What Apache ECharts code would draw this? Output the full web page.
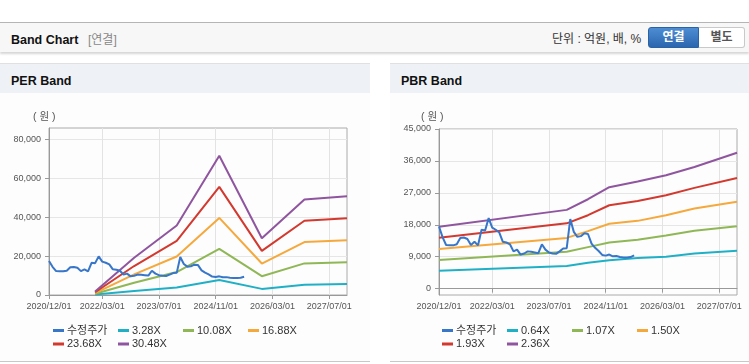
<!DOCTYPE html>
<html><head><meta charset="utf-8">
<script src="https://cdn.jsdelivr.net/npm/echarts@6/dist/echarts.min.js"></script>
<style>
body{margin:0;width:749px;height:364px;overflow:hidden;background:#fff;position:relative;font-family:'Liberation Sans','Noto Sans CJK KR',sans-serif;}
.hdr{position:absolute;left:0;top:22px;width:749px;height:29px;background:#f7f7f7;border-top:1px solid #b5b5b5;box-shadow:0 2px 2px rgba(0,0,0,0.16);}
.hdr .t{position:absolute;left:11px;top:10px;font-size:12.5px;font-weight:bold;color:#111;line-height:14px;}
.hdr .s{position:absolute;left:88px;top:10px;font-size:12px;color:#888;line-height:14px;}
.hdr .u{position:absolute;left:552px;top:9px;font-size:12px;color:#333;line-height:14px;}
.b1{position:absolute;left:648px;top:4px;width:51px;height:21px;box-sizing:border-box;background:linear-gradient(#4d8dd4,#2b66ae);border:1px solid #2a62a6;border-radius:3px 0 0 3px;color:#fff;font-weight:bold;font-size:12px;text-align:center;line-height:19px;}
.b2{position:absolute;left:699px;top:4px;width:46px;height:21px;box-sizing:border-box;background:#fff;border:1px solid #c9c9c9;border-left:none;border-radius:0 3px 3px 0;color:#555;font-weight:bold;font-size:12px;text-align:center;line-height:19px;}
.pn{position:absolute;top:63px;height:297px;background:#fdfdfd;border-top:1px solid #e0e0e0;border-bottom:1px solid #c8c8c8;}
.pn .tb{height:29px;background:#eef2f7;position:relative;}
.pn .tb span{position:absolute;left:11px;top:10px;font-size:12.5px;font-weight:bold;color:#111;line-height:14px;}
#c{position:absolute;left:0;top:0;width:749px;height:364px;}
</style></head>
<body>
<div class="hdr"><span class="t">Band Chart</span><span class="s">[연결]</span><span class="u">단위 : 억원, 배, %</span><div class="b1">연결</div><div class="b2">별도</div></div>
<div class="pn" style="left:0;width:370px;"><div class="tb"><span>PER Band</span></div></div>
<div class="pn" style="left:390px;width:359px;"><div class="tb"><span>PBR Band</span></div></div>
<div id="c"></div>
<script>
// ---- categories (monthly, 2020/12 .. 2027/12) ----
const categories = [];
for (let y = 2020, m = 12; y < 2028; ) {
  categories.push(y + '/' + (m < 10 ? '0' + m : m) + '/01');
  m++; if (m > 12) { m = 1; y++; }
}
const xTickLabels = ['2020/12/01','2022/03/01','2023/07/01','2024/11/01','2026/03/01','2027/07/01'];

// ---- 수정주가 (monthly, from 2020/12) ----
const price = [17500,14500,12300,12200,12200,12500,14300,14400,14000,12300,13200,12200,
  16600,16400,19900,17200,16600,15800,13200,13000,12500,10500,11000,9600,
  9900,10500,10400,10200,10000,12500,11000,10200,9900,9800,10500,11300,
  11400,19600,16000,14600,14800,15600,15400,12700,11500,10600,9500,9300,
  9600,9100,9200,8900,8800,8800,8900,9400];

// ---- PER band ----
const perDates = ['2022/01/01','2022/12/01','2023/12/01','2024/12/01','2025/12/01','2026/12/01','2027/12/01'];
const per328  = [200, 2070, 3850, 7710, 3150, 5300, 5700];
const per1008 = [600, 6350, 11840, 23710, 9680, 16280, 16810];
const per1688 = [1010, 10630, 19830, 39700, 16200, 27260, 28160];
const per2368 = [1420, 14920, 27820, 55700, 22730, 38240, 39500];
const per3048 = [1830, 19200, 35810, 71690, 29260, 49230, 50840];
const perYTicks = [0, 20000, 40000, 60000, 80000];

// ---- PBR band ----
const pbrDates = ['2020/12/01','2023/12/01','2024/06/01','2024/12/01','2025/08/01','2026/04/01','2026/12/01','2027/12/01'];
const pbr064 = [5070, 6400, 7300, 8000, 8600, 9000, 9900, 10700];
const pbr107 = [8070, 10400, 11700, 13000, 13800, 15000, 16300, 17600];
const pbr150 = [11170, 14300, 16200, 18300, 19100, 20700, 22600, 24500];
const pbr193 = [14350, 18400, 20700, 23500, 24700, 26300, 28400, 31200];
const pbr236 = [17440, 22200, 25200, 28600, 30200, 31950, 34300, 38300];
const pbrYTicks = [0, 9000, 18000, 27000, 36000, 45000];

const perNames = ['수정주가','3.28X','10.08X','16.88X','23.68X','30.48X'];
const pbrNames = ['수정주가','0.64X','1.07X','1.50X','1.93X','2.36X'];
const colors = ['#3776c8','#1fb0c6','#8fb756','#f5a83c','#d2392f','#8f559e'];

const FONT = "'Liberation Sans','Noto Sans CJK KR',sans-serif";
const pair = (dates, vals) => dates.map((d, i) => [d, vals[i]]);
const isTick = (i, v) => xTickLabels.indexOf(v) >= 0;
const fmt = v => Number(v).toLocaleString('en-US');

function xAxisCfg(gi) {
  return {
    type: 'category', gridIndex: gi, data: categories, boundaryGap: false,
    axisLine: { show: true, lineStyle: { color: '#999', width: 1 } },
    axisTick: { show: true, length: 4, interval: isTick, lineStyle: { color: '#999' } },
    axisLabel: { interval: isTick, margin: 7, fontSize: 9, color: '#555', fontFamily: FONT, showMinLabel: true, showMaxLabel: true, hideOverlap: false },
    splitLine: { show: true, interval: isTick, lineStyle: { color: '#e3e3e3', width: 1 } }
  };
}
function yAxisCfg(gi, min, max, ticks) {
  return {
    type: 'value', gridIndex: gi, min: min, max: max,
    axisLine: { show: true, lineStyle: { color: '#999', width: 1 } },
    axisTick: { show: true, length: 4, customValues: ticks, lineStyle: { color: '#999' } },
    axisLabel: { customValues: ticks, margin: 8, fontSize: 9, color: '#555', fontFamily: FONT, formatter: fmt },
    splitLine: { show: true, lineStyle: { color: '#e6e6e6', width: 1 } }
  };
}
function lineSeries(name, gi, data, color, z) {
  return { type: 'line', name: name, xAxisIndex: gi, yAxisIndex: gi, data: data,
    showSymbol: false, symbol: 'none', smooth: false, z: z,
    lineStyle: { color: color, width: 2 }, itemStyle: { color: color }, emphasis: { disabled: true } };
}
const legendPos = [[0,0],[65,0],[130,0],[195,0],[0,1],[65,1]];
function legends(names, x0) {
  return names.map((n, i) => ({
    data: [n], left: x0 + legendPos[i][0], top: 325 + legendPos[i][1] * 13.5,
    orient: 'horizontal', padding: 0, itemGap: 0, icon: 'rect', itemWidth: 11, itemHeight: 3,
    selectedMode: false, textStyle: { fontSize: 11, color: '#333', fontFamily: FONT, padding: [0, 0, 0, -2] }
  }));
}

const series = [];
series.push(lineSeries(perNames[0], 0, price, colors[0], 5));
[per328, per1008, per1688, per2368, per3048].forEach((v, i) => series.push(lineSeries(perNames[i + 1], 0, pair(perDates, v), colors[i + 1], 3)));
series.push(lineSeries(pbrNames[0], 1, price, colors[0], 5));
[pbr064, pbr107, pbr150, pbr193, pbr236].forEach((v, i) => series.push(lineSeries(pbrNames[i + 1], 1, pair(pbrDates, v), colors[i + 1], 3)));

const chart = echarts.init(document.getElementById('c'), null, { renderer: 'canvas' });
chart.setOption({
  animation: false,
  backgroundColor: 'transparent',
  textStyle: { fontFamily: FONT },
  grid: [
    { left: 49, top: 128, width: 298, height: 167, show: true, borderColor: '#aaa', borderWidth: 1, backgroundColor: 'transparent', containLabel: false, outerBoundsMode: 'none' },
    { left: 439, top: 129, width: 298, height: 166, show: true, borderColor: '#aaa', borderWidth: 1, backgroundColor: 'transparent', containLabel: false, outerBoundsMode: 'none' }
  ],
  xAxis: [xAxisCfg(0), xAxisCfg(1)],
  yAxis: [yAxisCfg(0, 0, 86000, perYTicks), yAxisCfg(1, -1800, 45000, pbrYTicks)],
  legend: legends(perNames, 53).concat(legends(pbrNames, 442)),
  tooltip: { show: false },
  graphic: [
    { type: 'text', left: 33, top: 112, style: { text: '( 원 )', fontSize: 10.5, fill: '#555', fontFamily: FONT } },
    { type: 'text', left: 421, top: 112, style: { text: '( 원 )', fontSize: 10.5, fill: '#555', fontFamily: FONT } }
  ],
  series: series
});
</script>
</body></html>
